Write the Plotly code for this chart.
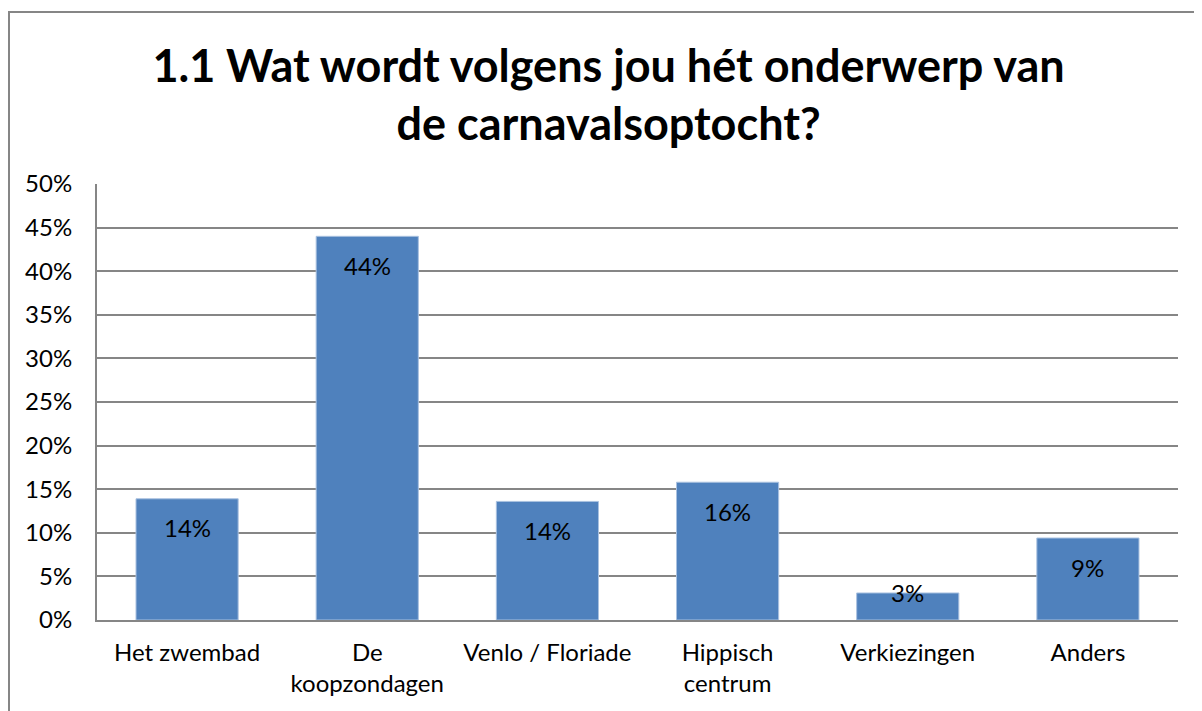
import plotly.graph_objects as go

categories = ["Het zwembad", "De<br>koopzondagen", "Venlo / Floriade", "Hippisch<br>centrum", "Verkiezingen", "Anders"]
values = [13.9, 44.0, 13.6, 15.8, 3.1, 9.4]
labels = ["14%", "44%", "14%", "16%", "3%", "9%"]
yticks = [0, 5, 10, 15, 20, 25, 30, 35, 40, 45, 50]
yticklabels = [f"{v}%" for v in yticks]

FONT = "Lato"
W, H = 1194, 703
L, T, R, B = 89, 176, 24, 91
PW, PH = W - L - R, H - T - B

fig = go.Figure()
fig.add_trace(go.Bar(
    x=categories, y=values, width=0.567,
    marker=dict(color="#4F81BD", line=dict(color="#A9C1E0", width=1)),
    hoverinfo="skip",
))

for c, v, t in zip(categories, values, labels):
    px = v * PH / 50
    shift = -29 if px > 60 else 0
    fig.add_annotation(x=c, y=v, text=t, showarrow=False, yshift=shift,
                       yanchor="middle", font=dict(family=FONT, size=24, color="black"))

fig.add_shape(type="rect", xref="paper", yref="paper",
              x0=(1 - L) / PW, x1=1.2, y0=-0.5, y1=(T - 4) / PH + 1,
              line=dict(color="#868686", width=2), fillcolor="rgba(0,0,0,0)", layer="below")

fig.update_layout(
    width=W, height=H,
    margin=dict(l=L, r=R, t=T, b=B),
    paper_bgcolor="white", plot_bgcolor="white",
    showlegend=False,
    title=dict(text="<b>1.1 Wat wordt volgens jou hét onderwerp van<br>de carnavalsoptocht?</b>",
               x=0.503, xanchor="center", y=0.895, yanchor="middle",
               font=dict(family=FONT, size=45, color="black")),
    bargap=0.433,
    xaxis=dict(showgrid=False, showline=True, linecolor="#868686", linewidth=2,
               ticks="", tickfont=dict(family=FONT, size=24, color="black"),
               ticklabelstandoff=10),
    yaxis=dict(range=[0, 50], tickvals=yticks, ticktext=yticklabels,
               showgrid=True, gridcolor="#868686", gridwidth=1.5,
               showline=True, linecolor="#868686", linewidth=2, zeroline=False,
               ticks="", tickfont=dict(family=FONT, size=24, color="black"),
               ticklabelstandoff=18),
)

fig.write_html("out.html")
